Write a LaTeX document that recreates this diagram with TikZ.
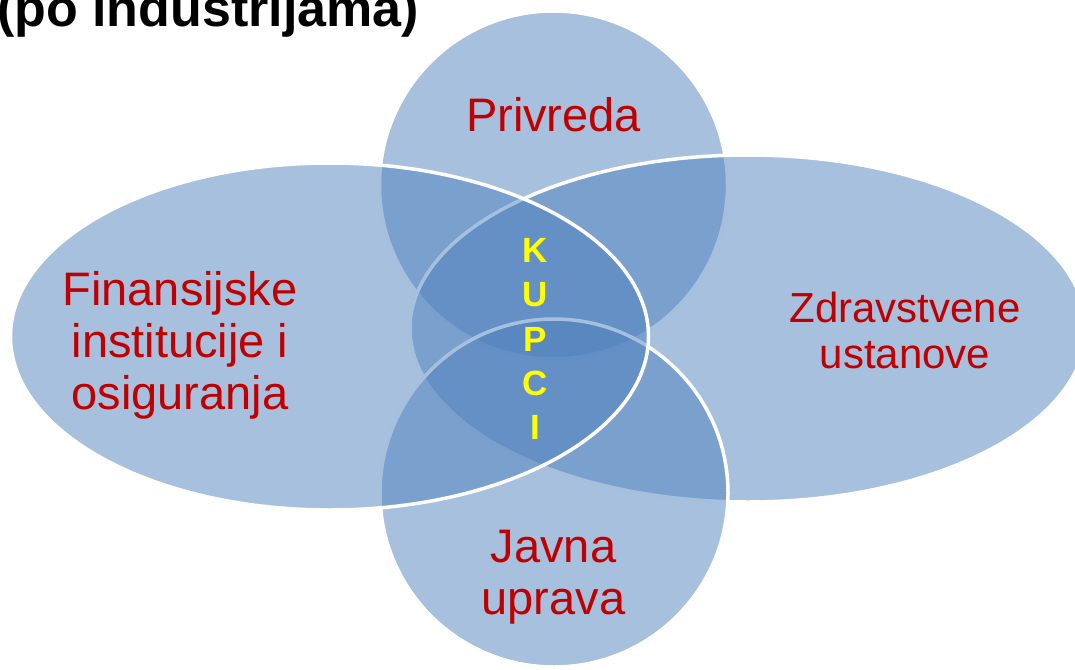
\documentclass[tikz,border=0pt]{standalone}
\usepackage{fontspec}
\setmainfont{Liberation Sans}
\definecolor{vennblue}{HTML}{4F81BD}
\definecolor{lblred}{HTML}{C00000}
\definecolor{kupciyellow}{HTML}{FFFF00}

\begin{document}
\begin{tikzpicture}[x=1pt,y=-1pt,
	venn/.style={fill=vennblue,fill opacity=0.5,draw=white,line width=3.5pt},
	lbl/.style={text=lblred,align=center,inner sep=0pt,font=\fontsize{47}{52}\selectfont}]
	\clip (0,0) rectangle (1075,669);
	\useasboundingbox (0,0) rectangle (1075,669);
	% the four sets, drawn back to front
	\draw[venn] (553.5,185) circle [radius=174pt];
	\draw[venn] (748,328.5) ellipse [x radius=338pt, y radius=173.5pt];
	\draw[venn] (554,493) circle [radius=174pt];
	\draw[venn] (329.5,336.5) ellipse [x radius=319pt, y radius=173.5pt];
	% labels
	\node (naslov) [anchor=base west,inner sep=0pt,font=\fontsize{52}{60}\selectfont\bfseries] at (-3,27) {(po industrijama)};
	\node (privreda) [lbl,anchor=base] at (553.5,131) {Privreda};
	\node (finansije) [lbl] at (180,345) {Finansijske\\institucije i\\osiguranja};
	\node (zdravstvo) [lbl,font=\fontsize{42}{46}\selectfont] at (905,330.5) {Zdravstvene\\ustanove};
	\node (uprava) [lbl] at (553.5,577) {Javna\\uprava};
	\node (kupci) [text=kupciyellow,align=center,inner sep=0pt,font=\fontsize{35}{44.3}\selectfont\bfseries] at (535,339) {K\\U\\P\\C\\I};
\end{tikzpicture}
\end{document}
